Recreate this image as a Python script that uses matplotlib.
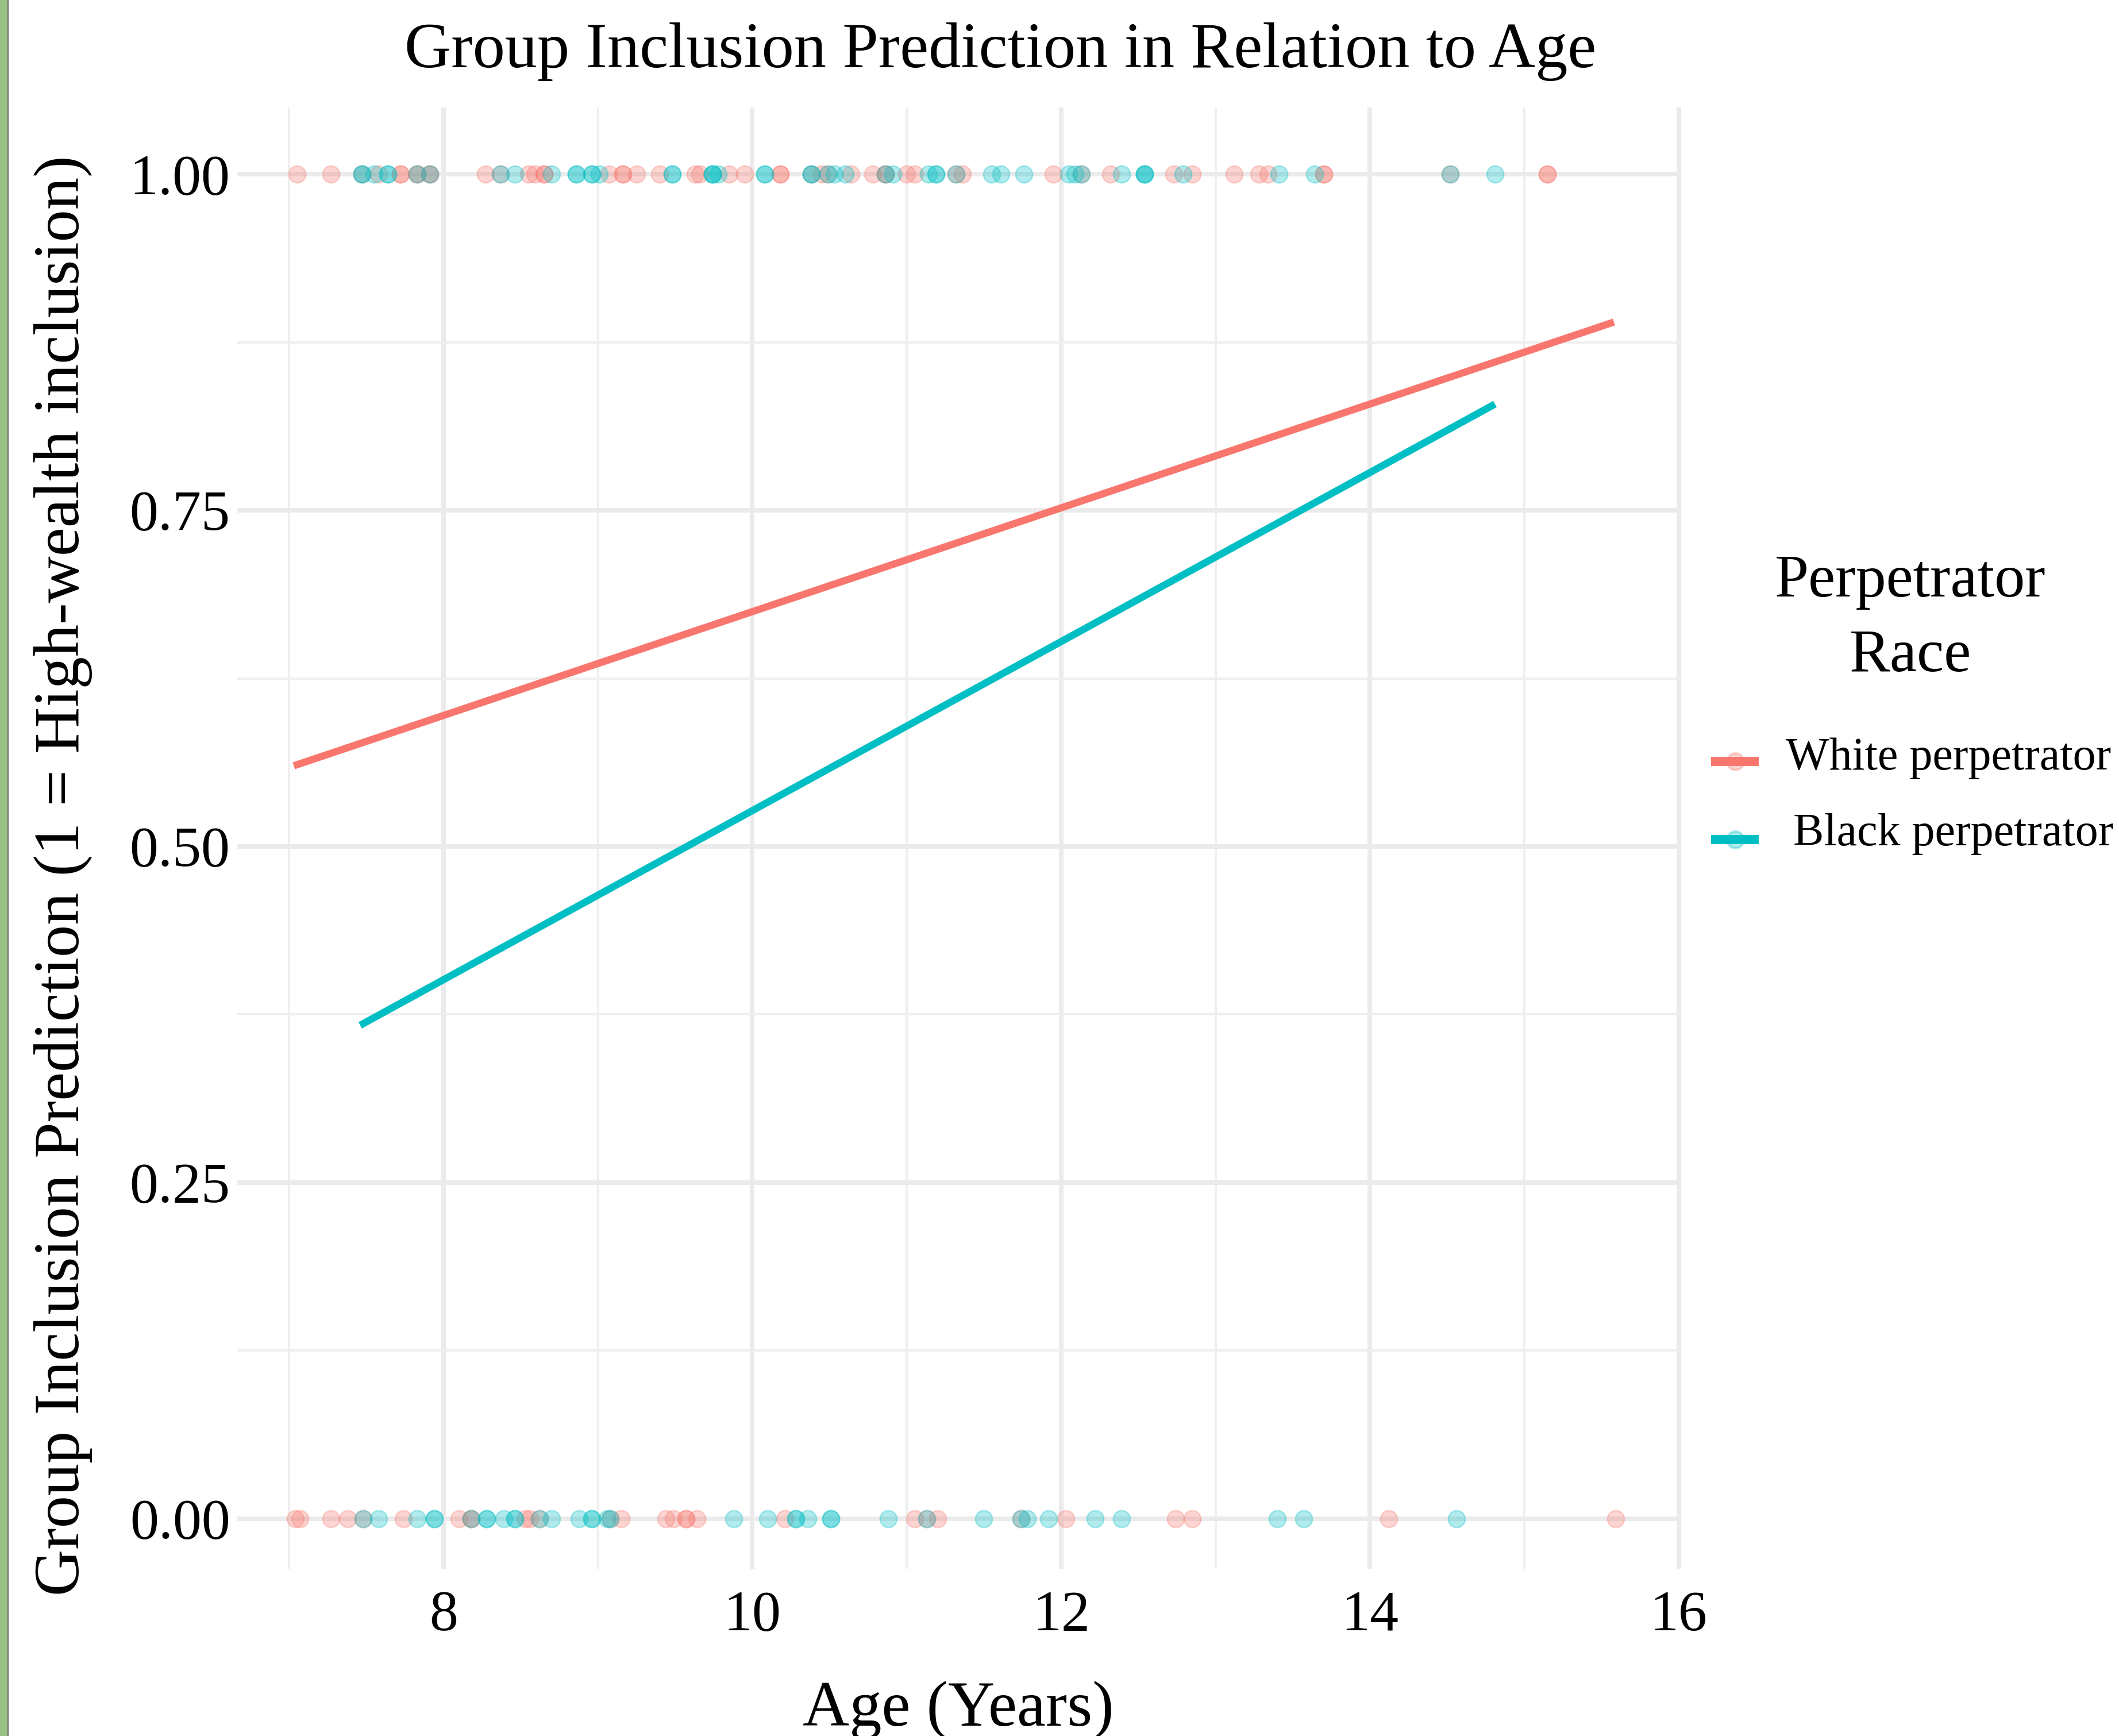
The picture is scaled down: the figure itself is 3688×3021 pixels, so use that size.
import matplotlib
matplotlib.use("Agg")
import matplotlib.pyplot as plt
from matplotlib.lines import Line2D
from matplotlib.patches import Rectangle

plt.rcParams["font.family"] = ["Liberation Serif", "DejaVu Serif"]

W, H = 3688, 3021
DPI = 300

# ---------------- data ----------------
title = "Group Inclusion Prediction in Relation to Age"
x_label = "Age (Years)"
y_label = "Group Inclusion Prediction (1 = High-wealth inclusion)"
legend_title = "Perpetrator\nRace"
groups = ["White perpetrator", "Black perpetrator"]
colors = ["#F8766D", "#00BFC4"]
x_ticks = [8, 10, 12, 14, 16]
x_tick_labels = ["8", "10", "12", "14", "16"]
y_ticks = [0.00, 0.25, 0.50, 0.75, 1.00]
y_tick_labels = ["0.00", "0.25", "0.50", "0.75", "1.00"]

white_top_x = [7.05, 7.27, 7.47, 7.58, 7.72, 7.72, 7.83, 7.83, 7.91, 7.91, 8.27, 8.37,
               8.55, 8.59, 8.65, 8.65, 9.07, 9.16, 9.16, 9.25, 9.40, 9.63, 9.66, 9.85,
               9.95, 10.18, 10.18, 10.38, 10.45, 10.49, 10.64, 10.78, 10.86, 10.86, 11.00,
               11.05, 11.32, 11.36, 11.95, 12.13, 12.32, 12.73, 12.85, 13.12, 13.28, 13.34,
               13.70, 13.70, 14.52, 15.15, 15.15]
black_top_x = [7.47, 7.47, 7.55, 7.64, 7.64, 7.83, 7.91, 8.37, 8.46, 8.70, 8.86, 8.86,
               8.96, 8.96, 9.01, 9.48, 9.48, 9.74, 9.74, 9.74, 9.78, 10.08, 10.08, 10.38,
               10.38, 10.49, 10.53, 10.60, 10.86, 10.91, 11.14, 11.19, 11.19, 11.32, 11.55,
               11.61, 11.76, 12.05, 12.09, 12.13, 12.39, 12.54, 12.54, 12.54, 12.79, 13.41,
               13.64, 14.52, 14.81]
white_bottom_x = [7.04, 7.07, 7.27, 7.38, 7.48, 7.74, 8.10, 8.18, 8.18, 8.53, 8.56, 8.62,
                  9.08, 9.15, 9.44, 9.49, 9.57, 9.57, 9.64, 10.21, 11.05, 11.13, 11.20,
                  11.74, 12.03, 12.74, 12.85, 14.12, 15.59]
black_bottom_x = [7.48, 7.58, 7.83, 7.94, 7.94, 8.18, 8.28, 8.28, 8.39, 8.46, 8.46, 8.62,
                  8.70, 8.88, 8.96, 8.96, 9.06, 9.08, 9.88, 10.10, 10.28, 10.28, 10.36,
                  10.51, 10.51, 10.88, 11.13, 11.50, 11.74, 11.78, 11.92, 12.22, 12.39,
                  13.40, 13.57, 14.56]

white_fit_x = [7.03, 15.58]
white_fit_y = [0.560, 0.890]
black_fit_x = [7.46, 14.81]
black_fit_y = [0.367, 0.829]

# ---------------- figure ----------------
fig = plt.figure(figsize=(W / DPI, H / DPI), dpi=DPI)
fig.patch.set_facecolor("white")

def fx(px):
    return px / W

def fy(py):
    return 1 - py / H

# panel in pixel coords
pl, pr, pt, pb = 413, 2926, 187, 2730
ax = fig.add_axes([fx(pl), fy(pb), (pr - pl) / W, (pb - pt) / H])
ax.set_xlim(6.664, 16.016)
ax.set_ylim(-0.0372, 1.0496)
for s in ax.spines.values():
    s.set_visible(False)
ax.set_facecolor("white")

ax.set_xticks(x_ticks)
ax.set_xticklabels(x_tick_labels)
ax.set_yticks(y_ticks)
ax.set_yticklabels(y_tick_labels)
ax.set_xticks([7, 9, 11, 13, 15], minor=True)
ax.set_yticks([0.125, 0.375, 0.625, 0.875], minor=True)
ax.tick_params(which="both", length=0)
ax.tick_params(axis="x", labelsize=24, pad=9, colors="black")
ax.tick_params(axis="y", labelsize=24, pad=3, colors="black")
ax.grid(which="major", color="#EBEBEB", linewidth=1.9, zorder=0)
ax.grid(which="minor", color="#EFEFEF", linewidth=0.95, zorder=0)
ax.set_axisbelow(True)

pt_size = 50
series = [
    (white_top_x, 1.0, colors[0]),
    (white_bottom_x, 0.0, colors[0]),
    (black_top_x, 1.0, colors[1]),
    (black_bottom_x, 0.0, colors[1]),
]
for xs, yv, c in series:
    ax.scatter(xs, [yv] * len(xs), s=pt_size, color=c, alpha=0.3,
               edgecolors=c, linewidths=0.6, zorder=2)

ax.plot(white_fit_x, white_fit_y, color=colors[0], lw=3.0, solid_capstyle="butt", zorder=3)
ax.plot(black_fit_x, black_fit_y, color=colors[1], lw=3.0, solid_capstyle="butt", zorder=3)

# titles
fig.text(fx(1741), fy(117), title, ha="center", va="baseline", fontsize=27)
fig.text(fx(1668), fy(3003), x_label, ha="center", va="baseline", fontsize=27)
fig.text(fx(110), fy(1524), y_label, ha="center", va="center", rotation=90, fontsize=27)

# legend
lt_lines = legend_title.split("\n")
fig.text(fx(3325), fy(1038), lt_lines[0], ha="center", va="baseline", fontsize=25.5)
fig.text(fx(3325), fy(1168), lt_lines[1], ha="center", va="baseline", fontsize=25.5)
key_y = [1325, 1461]
lab_x = [3108, 3121]
lab_y = [1339, 1471]
for i, g in enumerate(groups):
    fig.add_artist(Line2D([fx(2978), fx(3061)], [fy(key_y[i])] * 2, transform=fig.transFigure,
                          color=colors[i], lw=3.8, solid_capstyle="butt"))
    fig.add_artist(Line2D([fx(3019.5)], [fy(key_y[i])], transform=fig.transFigure,
                          marker="o", markersize=7, color=colors[i], alpha=0.3, lw=0))
    fig.text(fx(lab_x[i]), fy(lab_y[i]), g, ha="left", va="baseline", fontsize=19.2)

# left border strip of the screenshot
fig.add_artist(Rectangle((0, 0), fx(12.5), 1, transform=fig.transFigure,
                         facecolor="#98C186", edgecolor="none"))
fig.add_artist(Line2D([fx(13.5), fx(13.5)], [0, 1], transform=fig.transFigure,
                      color="#6E6E6E", lw=0.5))

fig.savefig("out.png", dpi=DPI, facecolor="white")
